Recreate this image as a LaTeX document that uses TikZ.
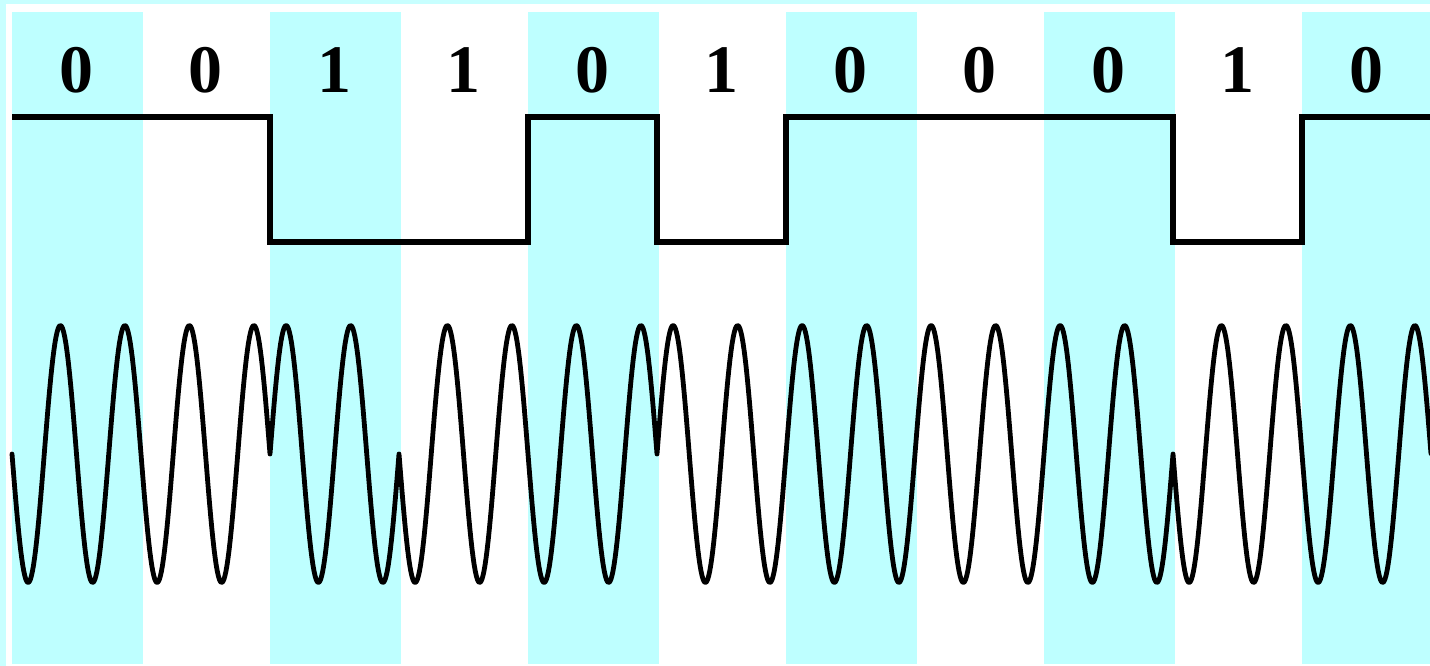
\documentclass[tikz,border=0pt]{standalone}
\usepackage{fontspec}
\setmainfont{Liberation Serif}
\definecolor{band}{RGB}{190,255,255}
\definecolor{framecyan}{RGB}{200,255,255}
\begin{document}
\begin{tikzpicture}[x=1pt,y=-1pt,
  bitlabel/.style={anchor=base,inner sep=0pt,font=\fontsize{68}{68}\selectfont\bfseries},
  level/.style={line width=5.5pt,line join=miter},
  carrier/.style={line width=4.8pt,line join=round,line cap=round}]
\useasboundingbox (0,0) rectangle (1430,666);
\def\w{129}
\begin{scope}
\clip (0,0) rectangle (1430,666);
% page and frame
\fill[white] (0,0) rectangle (1430,666);
\fill[framecyan] (0,0) rectangle (1430,4.5);
\fill[framecyan] (0,0) rectangle (5.5,666);
% shaded bit slots
\foreach \k in {0,2,...,10}
  \fill[band] ({12+\k*\w-0.5},12) rectangle ({12+(\k+1)*\w+1.5},664);
% bit values
\foreach \b [count=\i from 0] in {0,0,1,1,0,1,0,0,0,1,0}
  \node[bitlabel] (b\i) at ({12+(\i+0.5)*\w},93) {\b};
% binary data signal
\draw[level] (12,117) -| (270,242) -| (528,117) -| (657,242) -| (786,117)
  -| (1173,242) -| (1302,117) -- (1440,117);
% differential PSK carrier: two cycles per bit, the phase is
% reversed at the start of every 1 bit (\s = current phase sign)
\draw[carrier] (12,454)
  \foreach \s [count=\i from 0] in {1,1,-1,1,1,-1,-1,-1,-1,1,1} {
    -- plot[domain=0:1, samples=121, variable=\t]
       ({12+\i*\w+\t*\w}, {454+\s*128.5*sin(720*\t)})
  };
\end{scope}
\end{tikzpicture}
\end{document}
